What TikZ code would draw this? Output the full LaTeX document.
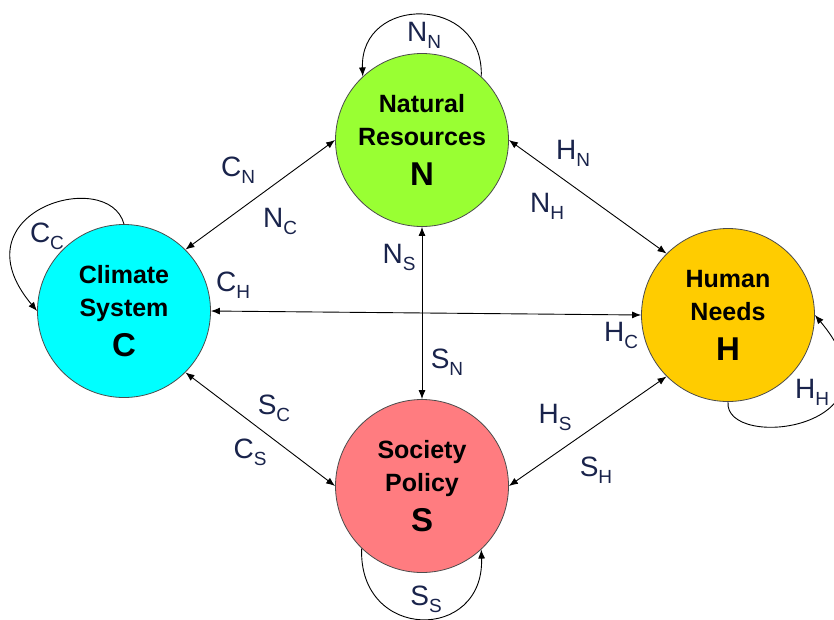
\documentclass[tikz,border=0pt]{standalone}
\usepackage{fontspec}
\setmainfont{Liberation Sans}
\usetikzlibrary{arrows.meta}

\definecolor{natgreen}{RGB}{153,255,51}
\definecolor{climcyan}{RGB}{0,255,255}
\definecolor{humgold}{RGB}{255,204,0}
\definecolor{socred}{RGB}{255,124,128}
\definecolor{rateblue}{RGB}{25,35,75}

% rate symbol: main letter with a lowered subscript letter
\newcommand\ratesym[2]{#1\raisebox{-7pt}{\fontsize{19}{19}\selectfont #2}}
\newcommand\bigletter[1]{{\fontsize{33}{33}\selectfont #1}}

\begin{document}
\begin{tikzpicture}[x=1pt,y=-1pt,
  sector/.style={circle, draw=black!70, line width=0.8pt, minimum size=173pt,
    inner sep=0pt, align=center, font=\bfseries\fontsize{25}{33}\selectfont},
  link/.style={<->, line width=0.9pt, >={Latex[length=9pt,width=7pt]}},
  selfloop/.style={->, line width=0.9pt, >={Latex[length=9pt,width=7pt]}},
  rate/.style={text=rateblue, font=\fontsize{28}{28}\selectfont, inner sep=0pt}]
\useasboundingbox (0,0) rectangle (834,619);

% the four subsystems
\node[sector, fill=natgreen] (N) at (422,140) {Natural\\Resources\\[7pt]\bigletter{N}};
\node[sector, fill=climcyan] (C) at (124,311) {Climate\\System\\[7pt]\bigletter{C}};
\node[sector, fill=humgold]  (H) at (728,315) {Human\\Needs\\[7pt]\bigletter{H}};
\node[sector, fill=socred]   (S) at (422,486) {Society\\Policy\\[7pt]\bigletter{S}};

% mutual interactions
\draw[link] (C.45)  -- (N.180);
\draw[link] (N.0)   -- (H.135);
\draw[link] (C.0)   -- (H.180);
\draw[link] (N.270) -- (S.90);
\draw[link] (C.315) -- (S.180);
\draw[link] (H.225) -- (S.0);

% self interactions
\draw[selfloop] (N.47) .. controls +(88:82pt) and +(92:82pt) .. (N.133);
\draw[selfloop] (C.90) .. controls +(105:60pt) and +(130:130pt) .. (C.180);
\draw[selfloop] (H.270) .. controls +(-95:50pt) and +(-50:150pt) .. (H.0);
\draw[selfloop] (S.226) .. controls +(-92:93pt) and +(-88:93pt) .. (S.313);

% interaction labels
\node[rate] (lNN) at (424,35)  {\ratesym{N}{N}};
\node[rate] (lCC) at (47,236)  {\ratesym{C}{C}};
\node[rate] (lHH) at (812,392) {\ratesym{H}{H}};
\node[rate] (lSS) at (426,599) {\ratesym{S}{S}};
\node[rate] (lCN) at (238,170) {\ratesym{C}{N}};
\node[rate] (lNC) at (280,221) {\ratesym{N}{C}};
\node[rate] (lCH) at (233,285) {\ratesym{C}{H}};
\node[rate] (lHN) at (573,153) {\ratesym{H}{N}};
\node[rate] (lNH) at (547,206) {\ratesym{N}{H}};
\node[rate] (lNS) at (399,257) {\ratesym{N}{S}};
\node[rate] (lSN) at (447,362) {\ratesym{S}{N}};
\node[rate] (lHC) at (621,335) {\ratesym{H}{C}};
\node[rate] (lSC) at (274,408) {\ratesym{S}{C}};
\node[rate] (lCS) at (250,452) {\ratesym{C}{S}};
\node[rate] (lHS) at (555,417) {\ratesym{H}{S}};
\node[rate] (lSH) at (596,470) {\ratesym{S}{H}};
\end{tikzpicture}
\end{document}
